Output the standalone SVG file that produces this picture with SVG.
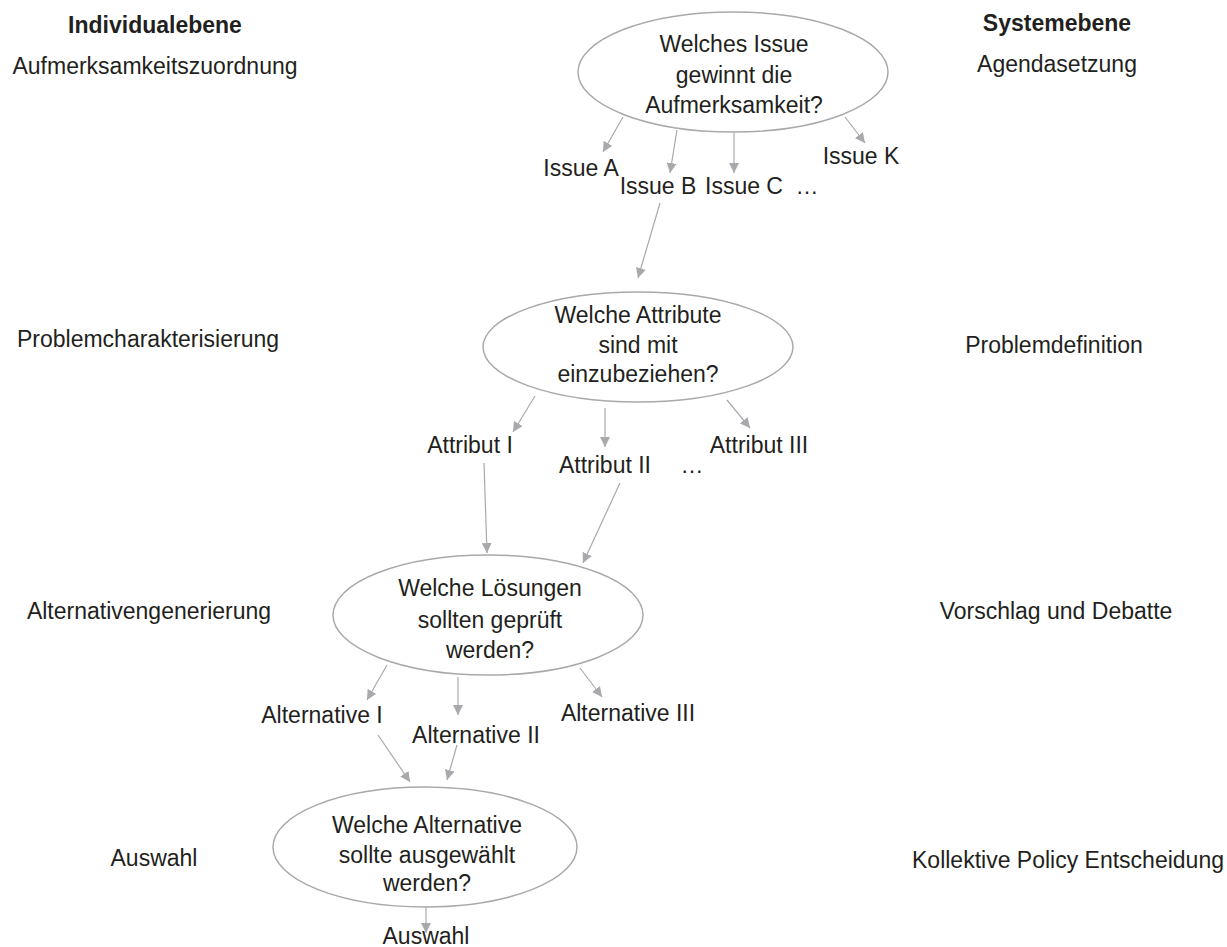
<svg xmlns="http://www.w3.org/2000/svg" width="1227" height="947" viewBox="0 0 1227 947">
<defs>
<marker id="ah" viewBox="0 0 10 10" refX="10" refY="5" markerWidth="10" markerHeight="10" markerUnits="userSpaceOnUse" orient="auto">
<path d="M0,0 L10,5 L0,10 z" fill="#a7a9ac"/>
</marker>
<style>
text{font-family:"Liberation Sans",Arial,sans-serif;font-size:23px;fill:#231f20;text-anchor:middle}
.b{font-weight:bold}
ellipse{fill:#fff;stroke:#a7a9ac;stroke-width:1.5}
.c line{stroke:#a7a9ac;stroke-width:1.2;marker-end:url(#ah)}
</style>
</defs>
<rect width="1227" height="947" fill="#fff"/>
<g id="left-labels">
<text class="b" x="155" y="33">Individualebene</text>
<text x="155" y="74">Aufmerksamkeitszuordnung</text>
<text x="148" y="347">Problemcharakterisierung</text>
<text x="149" y="619">Alternativengenerierung</text>
<text x="154" y="866">Auswahl</text>
</g>
<g id="right-labels">
<text class="b" x="1057" y="31">Systemebene</text>
<text x="1057" y="72">Agendasetzung</text>
<text x="1054" y="353">Problemdefinition</text>
<text x="1056" y="619">Vorschlag und Debatte</text>
<text x="1068" y="868">Kollektive Policy Entscheidung</text>
</g>
<g class="c" id="connectors">
<line x1="623" y1="117" x2="603" y2="152"/>
<line x1="677" y1="130" x2="670" y2="173"/>
<line x1="734" y1="133" x2="734" y2="173"/>
<line x1="845" y1="117" x2="865" y2="143"/>
<line x1="660" y1="203" x2="638" y2="278"/>
<line x1="535" y1="396" x2="513" y2="432"/>
<line x1="605" y1="408" x2="605" y2="447"/>
<line x1="727" y1="400" x2="750" y2="428"/>
<line x1="484" y1="463" x2="487" y2="553"/>
<line x1="620" y1="483" x2="583" y2="563"/>
<line x1="387" y1="665" x2="367" y2="700"/>
<line x1="458" y1="677" x2="458" y2="715"/>
<line x1="580" y1="668" x2="602" y2="697"/>
<line x1="378" y1="735" x2="410" y2="782"/>
<line x1="457" y1="745" x2="447" y2="780"/>
<line x1="426" y1="907" x2="426" y2="933"/>
</g>
<g id="n1">
<ellipse cx="733" cy="72" rx="155" ry="60"/>
<text x="734" y="52">Welches Issue</text>
<text x="734" y="83">gewinnt die</text>
<text x="734" y="113">Aufmerksamkeit?</text>
</g>
<g id="issues">
<text x="581" y="176">Issue A</text>
<text x="658" y="194">Issue B</text>
<text x="744" y="194">Issue C</text>
<text x="807" y="194">…</text>
<text x="861" y="164">Issue K</text>
</g>
<g id="n2">
<ellipse cx="638" cy="347" rx="155" ry="55"/>
<text x="638" y="323">Welche Attribute</text>
<text x="638" y="353">sind mit</text>
<text x="638" y="382">einzubeziehen?</text>
</g>
<g id="attributes">
<text x="470" y="453">Attribut I</text>
<text x="605" y="473">Attribut II</text>
<text x="692" y="473">…</text>
<text x="759" y="453">Attribut III</text>
</g>
<g id="n3">
<ellipse cx="488" cy="615" rx="155" ry="60"/>
<text x="490" y="596">Welche Lösungen</text>
<text x="490" y="628">sollten geprüft</text>
<text x="490" y="658">werden?</text>
</g>
<g id="alternatives">
<text x="322" y="723">Alternative I</text>
<text x="476" y="743">Alternative II</text>
<text x="628" y="721">Alternative III</text>
</g>
<g id="n4">
<ellipse cx="425" cy="847" rx="152" ry="60"/>
<text x="427" y="833">Welche Alternative</text>
<text x="427" y="863">sollte ausgewählt</text>
<text x="427" y="891">werden?</text>
</g>
<g id="result">
<text x="426" y="944">Auswahl</text>
</g>
</svg>
